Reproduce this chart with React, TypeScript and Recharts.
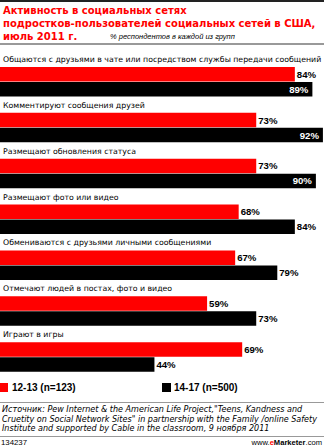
import { BarChart, Bar, XAxis, YAxis, LabelList } from 'recharts'

const categories = [
  'Общаются с друзьями в чате или посредством службы передачи сообщений',
  'Комментируют сообщения друзей',
  'Размещают обновления статуса',
  'Размещают фото или видео',
  'Обмениваются с друзьями личными сообщениями',
  'Отмечают людей в постах, фото и видео',
  'Играют в игры',
]
const age1213 = [84, 73, 73, 68, 67, 59, 69]
const age1417 = [89, 92, 90, 84, 79, 73, 44]
const seriesNames = ['12-13 (n=123)', '14-17 (n=500)']
const seriesColors = ['#ff0000', '#000000']

const data = categories.map((name, i) => ({ name, a: age1213[i], b: age1417[i] }))

const FONT = '"DejaVu Sans", Verdana, sans-serif'
const ARIAL = '"Liberation Sans", Arial, sans-serif'
const VIEW_W = 324

function CategoryLabel(props: any) {
  const { y, value } = props
  return (
    <text x={3} y={y - 5} fontSize={7.8} fontFamily={FONT} fill="#000">
      {value}
    </text>
  )
}

function ValueLabel(props: any) {
  const { x, y, width, height, value } = props
  const end = x + width
  const inside = end + 22 > VIEW_W
  return (
    <text
      x={inside ? end - 4 : end + 2}
      y={y + height / 2}
      dy="0.36em"
      textAnchor={inside ? 'end' : 'start'}
      fontSize={9.6}
      fontWeight="bold"
      fontFamily={ARIAL}
      fill={inside ? '#fff' : '#000'}
    >
      {value}%
    </text>
  )
}

export default function App() {
  return (
    <div
      style={{
        position: 'absolute',
        left: 0,
        top: 0,
        width: 324,
        height: 447,
        overflow: 'hidden',
        background: '#fff',
        fontFamily: FONT,
      }}
    >
      <div style={{ position: 'absolute', left: 0, top: 0, width: 324, height: 2, background: '#222' }} />
      <div
        style={{
          position: 'absolute',
          left: 3,
          top: 4,
          color: '#ff0000',
          fontWeight: 'bold',
          fontSize: 10,
          lineHeight: '13px',
          whiteSpace: 'nowrap',
        }}
      >
        Активность в социальных сетях
        <br />
        подростков-пользователей социальных сетей в США,
        <br />
        июль 2011 г.
      </div>
      <div
        style={{
          position: 'absolute',
          left: 110,
          top: 31,
          fontSize: 7.5,
          fontFamily: ARIAL,
          fontStyle: 'italic',
          whiteSpace: 'nowrap',
          lineHeight: '12px',
        }}
      >
        % респондентов в каждой из групп
      </div>
      <div style={{ position: 'absolute', left: 0, top: 43, width: 324, height: 1.5, background: '#999' }} />

      <div style={{ position: 'absolute', left: 0, top: 47 }}>
        <BarChart
          width={351}
          height={333}
          data={data}
          layout="vertical"
          margin={{ top: 12, right: 0, bottom: 0, left: 0 }}
          barSize={14.5}
          barGap={0.5}
        >
          <XAxis type="number" domain={[0, 100]} hide />
          <YAxis type="category" dataKey="name" hide />
          <Bar dataKey="a" fill={seriesColors[0]} isAnimationActive={false}>
            <LabelList dataKey="name" content={CategoryLabel} />
            <LabelList dataKey="a" content={ValueLabel} />
          </Bar>
          <Bar dataKey="b" fill={seriesColors[1]} isAnimationActive={false}>
            <LabelList dataKey="b" content={ValueLabel} />
          </Bar>
        </BarChart>
      </div>

      {seriesNames.map((s, i) => (
        <div
          key={s}
          style={{
            position: 'absolute',
            left: i === 0 ? 0 : 162,
            top: 382,
            display: 'flex',
            alignItems: 'center',
            fontSize: 10,
            fontFamily: ARIAL,
            fontWeight: 'bold',
            whiteSpace: 'nowrap',
            lineHeight: '11px',
          }}
        >
          <span
            style={{
              display: 'inline-block',
              width: i === 0 ? 8 : 9,
              height: 9,
              background: seriesColors[i],
              marginRight: i === 0 ? 4 : 3,
            }}
          />
          {s}
        </div>
      ))}

      <div style={{ position: 'absolute', left: 0, top: 401.5, width: 324, height: 1.5, background: '#999' }} />
      <div
        style={{
          position: 'absolute',
          left: 2,
          top: 405,
          fontSize: 8.05,
          fontStyle: 'italic',
          lineHeight: '9.6px',
          whiteSpace: 'nowrap',
        }}
      >
        Источник: Pew Internet &amp; the American Life Project,"Teens, Kandness and
        <br />
        Cruetity on Social Network Sites" in partnership with the Family /online Safety
        <br />
        Institute and supported by Cable in the classroom, 9 ноября 2011
      </div>
      <div style={{ position: 'absolute', left: 0, top: 436, width: 324, height: 1, background: '#999' }} />
      <div style={{ position: 'absolute', left: 1, top: 437.5, fontSize: 7.8, fontFamily: ARIAL, lineHeight: '10px' }}>
        134237
      </div>
      <div
        style={{
          position: 'absolute',
          right: 2,
          top: 437.5,
          fontSize: 7.6,
          fontFamily: ARIAL,
          lineHeight: '10px',
          whiteSpace: 'nowrap',
        }}
      >
        www.<b style={{ color: '#ff0000' }}>e</b>
        <b>Marketer</b>.com
      </div>
    </div>
  )
}
